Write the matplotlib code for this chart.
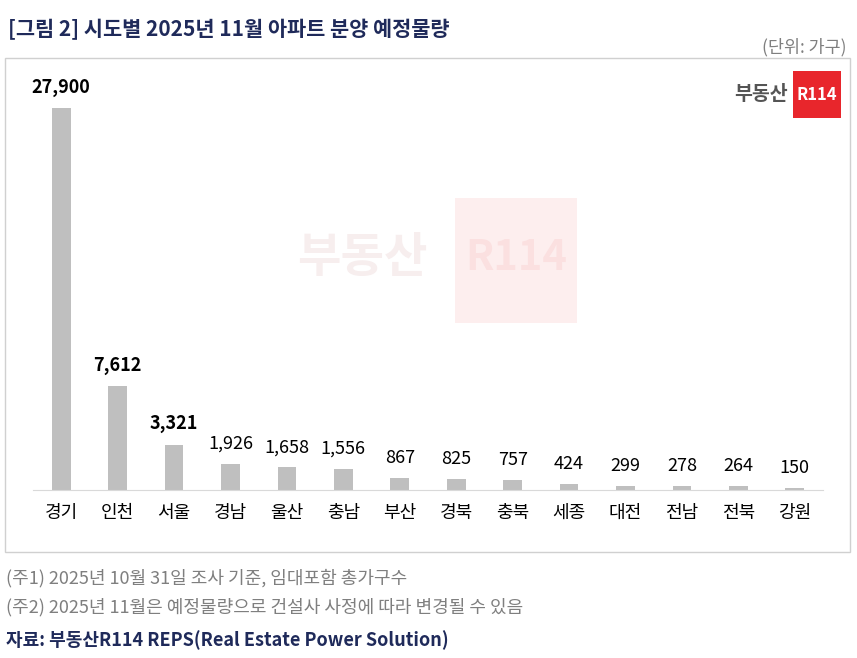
import matplotlib
matplotlib.use("Agg")
import matplotlib.pyplot as plt
from matplotlib.patches import Rectangle

plt.rcParams['font.family'] = ['Noto Sans CJK KR', 'DejaVu Sans']

regions = ['경기','인천','서울','경남','울산','충남','부산','경북','충북','세종','대전','전남','전북','강원']
values = [27900,7612,3321,1926,1658,1556,867,825,757,424,299,278,264,150]
bold_top = 3

W, H = 857, 658
fig = plt.figure(figsize=(W/100, H/100), dpi=100)
navy = '#1f2a5a'
gray = '#7f7f7f'

fig.add_artist(Rectangle((5/W, 1-552/H), 845/W, (552-58)/H, transform=fig.transFigure,
                         fill=False, edgecolor='#d0d0d0', lw=1))
# watermark
fig.text(362/W, 1-258/H, '부동산', fontsize=34, fontweight='bold', color='#f7eeee', ha='center', va='center')
fig.add_artist(Rectangle((455/W, 1-323/H), 122/W, 125/H, transform=fig.transFigure,
                         facecolor='#fdeeee', edgecolor='none'))
fig.text(516/W, 1-258/H, 'R114', fontsize=30, fontweight='bold', color='#fbe0e0', ha='center', va='center')

ax = fig.add_axes([33/W, 1-490/H, 790/W, (490-79)/H])
x = range(len(regions))
ax.bar(x, values, width=0.33, color='#bfbfbf')
ax.set_xlim(-0.5, len(regions)-0.5)
ax.set_ylim(0, 30000)
for s in ['left', 'right', 'top']:
    ax.spines[s].set_visible(False)
ax.spines['bottom'].set_color('#d9d9d9')
ax.set_yticks([])
ax.set_xticks(list(x))
ax.set_xticklabels(regions, fontsize=13)
ax.tick_params(axis='x', length=0, pad=10)
for i, v in enumerate(values):
    ax.annotate(f'{v:,}', (i, v), xytext=(0, 8), textcoords='offset points', ha='center', va='bottom',
                fontsize=13, fontweight='bold' if i < bold_top else 'normal')
ax.patch.set_alpha(0)

fig.text(8/W, 1-30/H, '[그림 2] 시도별 2025년 11월 아파트 분양 예정물량', fontsize=15, fontweight='bold',
         color=navy, va='center')
fig.text(846/W, 1-47/H, '(단위: 가구)', fontsize=12.5, color=gray, ha='right', va='center')

fig.text(788/W, 1-95/H, '부동산', fontsize=14, fontweight='bold', color='#555555', ha='right', va='center')
fig.add_artist(Rectangle((793/W, 1-118/H), 48/W, 47/H, transform=fig.transFigure,
                         facecolor='#e8262c', edgecolor='none'))
fig.text(817/W, 1-95/H, 'R114', fontsize=12, fontweight='bold', color='white', ha='center', va='center')

fig.text(6/W, 1-578/H, '(주1) 2025년 10월 31일 조사 기준, 임대포함 총가구수', fontsize=13, color=gray, va='center')
fig.text(6/W, 1-607/H, '(주2) 2025년 11월은 예정물량으로 건설사 사정에 따라 변경될 수 있음', fontsize=13, color=gray, va='center')
fig.text(6/W, 1-640/H, '자료: 부동산R114 REPS(Real Estate Power Solution)', fontsize=13, fontweight='bold',
         color=navy, va='center')

fig.savefig('out.png', dpi=100, facecolor='white')
